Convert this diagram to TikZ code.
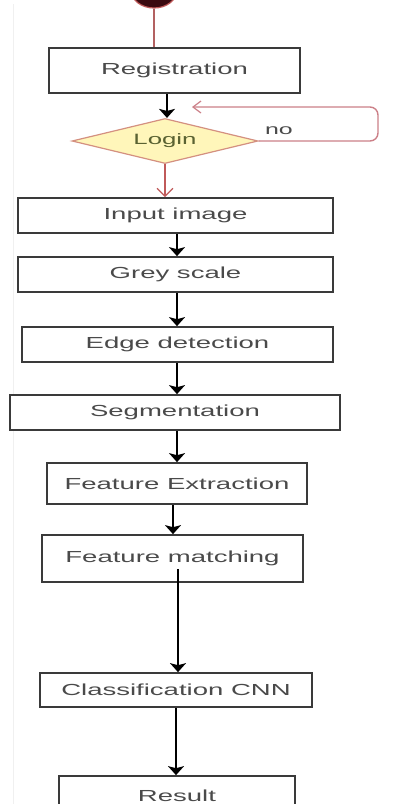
\documentclass[tikz,border=0pt]{standalone}
\usepackage{fontspec}
\setmainfont{Liberation Sans}
\newfontfamily\widefont[FakeStretch=1.72]{Liberation Sans}
\usetikzlibrary{shapes.geometric,arrows.meta}
\definecolor{boxline}{HTML}{3A3A3A}
\definecolor{boxtext}{HTML}{4A4A4A}
\definecolor{loopline}{HTML}{CC8088}
\definecolor{downred}{HTML}{C05A5A}
\definecolor{diafill}{HTML}{FFF6BA}
\definecolor{diaedge}{HTML}{D49080}
\definecolor{logintext}{HTML}{5A6232}
\definecolor{startdot}{HTML}{3A0A10}
\begin{document}
\begin{tikzpicture}[x=1pt,y=-1pt,
  stepbox/.style={draw=boxline,line width=1.7pt,fill=white,inner sep=0pt,
    text=boxtext,font=\widefont\fontsize{16}{19}\selectfont},
  flow/.style={draw=black,line width=1.5pt,-{Stealth[length=9pt,width=16pt,inset=2pt]}},
  redflow/.style={draw=downred,line width=1.2pt,-{Straight Barb[length=8pt,width=16pt,line width=1.2pt]}},
  loopflow/.style={draw=loopline,line width=1.4pt,rounded corners=8pt,
    -{Straight Barb[length=8pt,width=12pt,line width=1.2pt]}}]
\useasboundingbox (0,0) rectangle (411,804);
\fill[white] (0,0) rectangle (411,804);
% faint page edge on the left
\draw[gray!12,line width=0.8pt] (13,4) -- (13,804);

% start point, cut by the top edge
\node[ellipse,fill=startdot,draw=downred,line width=1.2pt,minimum width=46pt,minimum height=36pt,inner sep=0pt] (start) at (154,-10) {};

\node[stepbox,minimum width=251pt,minimum height=45pt] (reg) at (174.5,70.5) {Registration};
\node[diamond,draw=diaedge,fill=diafill,line width=1.2pt,inner sep=0pt,
  minimum width=186pt,minimum height=45pt,aspect=4.13,
  text=logintext,font=\widefont\fontsize{15}{18}\selectfont] (login) at (165,141) {Login};
\node[stepbox,minimum width=315pt,minimum height=35pt] (inp) at (175.5,215.5) {Input image};
\node[stepbox,minimum width=315pt,minimum height=35pt] (grey) at (175.5,274.5) {Grey scale};
\node[stepbox,minimum width=311pt,minimum height=35pt] (edge) at (177.5,344.5) {Edge detection};
\node[stepbox,minimum width=330pt,minimum height=35pt] (seg) at (175,412.5) {Segmentation};
\node[stepbox,minimum width=260pt,minimum height=41pt] (fext) at (177,483.5) {Feature Extraction};
\node[stepbox,minimum width=261pt,minimum height=47pt] (fmat) at (172.5,558.5) {Feature matching};
\node[stepbox,minimum width=272pt,minimum height=34pt] (cnn) at (176,690) {Classification CNN};
\node[stepbox,minimum width=236pt,minimum height=40pt] (res) at (177,796) {Result};

\node[text=boxtext,font=\widefont\fontsize{14.5}{17}\selectfont,inner sep=0pt] (no) at (279,131) {no};
\coordinate (loopend) at (192,107);

% connectors
\draw[draw=downred!80!gray,line width=1.2pt] (start.south) -- (start.south |- reg.north);
\draw[flow] ([xshift=-7.5pt]reg.south) -- ([xshift=-7.5pt]reg.south |- login.north);
\draw[loopflow] (login.east) -- (378,141) -- (378,107) -- (loopend);
\draw[redflow] (login.south) -- (login.south |- inp.north);
\draw[flow] ([xshift=1.5pt]inp.south) -- ([xshift=1.5pt]inp.south |- grey.north);
\draw[flow] ([xshift=1.5pt]grey.south) -- ([xshift=1.5pt]grey.south |- edge.north);
\draw[flow] ([xshift=-0.5pt]edge.south) -- ([xshift=-0.5pt]edge.south |- seg.north);
\draw[flow] ([xshift=2pt]seg.south) -- ([xshift=2pt]seg.south |- fext.north);
\draw[flow] ([xshift=-4pt]fext.south) -- ([xshift=-4pt]fext.south |- fmat.north);
\draw[flow] ([xshift=5.5pt,yshift=14pt]fmat.south) -- ([xshift=5.5pt]fmat.south |- cnn.north);
\draw[flow] (cnn.south) -- (cnn.south |- res.north);
\end{tikzpicture}
\end{document}
